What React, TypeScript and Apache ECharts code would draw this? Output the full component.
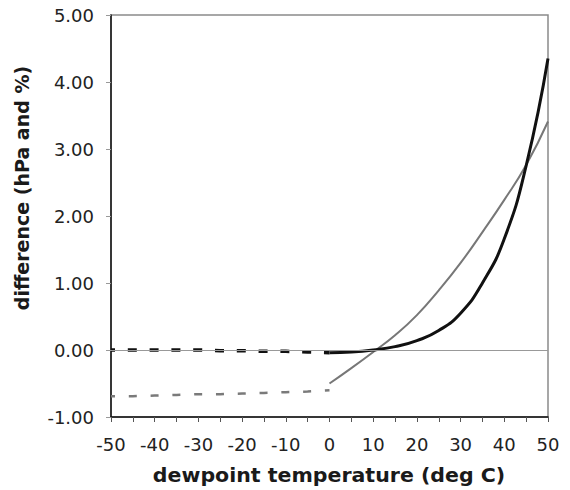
import React, { useEffect, useRef } from "react";
import * as echarts from "echarts";

const coldTemps = [-50, -45, -40, -35, -30, -25, -20, -15, -10, -5, 0];
const coldBlack = [0.0, 0.0, 0.0, 0.0, 0.0, -0.01, -0.01, -0.02, -0.02, -0.03, -0.04];
const coldGray = [-0.69, -0.69, -0.68, -0.67, -0.66, -0.66, -0.65, -0.64, -0.63, -0.62, -0.6];
const warmTemps = [0, 5, 10, 15, 20, 25, 30, 35, 40, 45, 50];
const warmBlack = [-0.04, -0.03, 0.0, 0.05, 0.14, 0.29, 0.55, 1.0, 1.66, 2.75, 4.35];
const warmGray = [-0.5, -0.27, -0.03, 0.22, 0.52, 0.89, 1.3, 1.76, 2.24, 2.76, 3.41];
const xTitle = "dewpoint temperature (deg C)";
const yTitle = "difference (hPa and %)";

const zip = (xs: number[], ys: number[]) => xs.map((x, i) => [x, ys[i]]);

export default function App() {
  const ref = useRef<HTMLDivElement>(null);
  useEffect(() => {
    const chart = echarts.init(ref.current!, null, { renderer: "svg" });
    const font = "DejaVu Sans, Verdana, sans-serif";
    chart.setOption({
      animation: false,
      backgroundColor: "#ffffff",
      grid: {
        left: 111,
        right: 22,
        top: 15,
        bottom: 73,
        show: true,
        borderColor: "#8a8a8a",
        borderWidth: 1.5,
        backgroundColor: "transparent",
      },
      graphic: [
        {
          type: "text",
          x: 329,
          y: 476,
          scaleX: 1.08,
          style: {
            text: xTitle,
            fontFamily: font,
            fontSize: 19,
            fontWeight: "bold",
            fill: "#1a1a1a",
            align: "center",
            verticalAlign: "middle",
          },
          silent: true,
        },
        {
          type: "text",
          x: 22,
          y: 188,
          rotation: Math.PI / 2,
          style: {
            text: yTitle,
            fontFamily: font,
            fontSize: 19,
            fontWeight: "bold",
            fill: "#1a1a1a",
            align: "center",
            verticalAlign: "middle",
          },
          silent: true,
        },
      ],
      xAxis: {
        type: "value",
        min: -50,
        max: 50,
        interval: 5,
        axisLine: { onZero: false, lineStyle: { color: "#111", width: 1.5 } },
        axisTick: { show: true, length: 5, inside: false, lineStyle: { color: "#555" } },
        axisLabel: {
          fontFamily: font,
          fontSize: 18,
          color: "#222",
          margin: 18,
          formatter: (v: number) => (v % 10 === 0 ? String(v) : ""),
        },
        splitLine: { show: false },
      },
      yAxis: {
        type: "value",
        min: -1,
        max: 5,
        interval: 1,
        axisLine: { show: true, onZero: false, lineStyle: { color: "#111", width: 1.5 } },
        axisTick: { show: true, length: 5, lineStyle: { color: "#999" } },
        axisLabel: {
          fontFamily: font,
          fontSize: 18,
          color: "#222",
          margin: 17,
          formatter: (v: number) => v.toFixed(2),
        },
        splitLine: { show: false },
      },
      series: [
        {
          type: "line",
          data: zip(coldTemps, coldGray),
          showSymbol: false,
          lineStyle: { color: "#7a7a7a", width: 2.5, type: [8, 13.8], dashOffset: 4 },
          silent: true,
        },
        {
          type: "line",
          data: zip(coldTemps, coldBlack),
          showSymbol: false,
          lineStyle: { color: "#111", width: 3.5, type: [9, 12.8], dashOffset: 4.5 },
          silent: true,
          z: 3,
          markLine: {
            silent: true,
            symbol: "none",
            label: { show: false },
            lineStyle: { color: "#999", width: 1, type: "solid" },
            data: [{ yAxis: 0 }],
          },
        },
        {
          type: "line",
          data: zip(warmTemps, warmGray),
          smooth: true,
          showSymbol: false,
          lineStyle: { color: "#777", width: 2 },
          silent: true,
        },
        {
          type: "line",
          data: zip(warmTemps, warmBlack),
          smooth: true,
          showSymbol: false,
          lineStyle: { color: "#111", width: 3 },
          silent: true,
          z: 4,
        },
      ],
    });
    return () => chart.dispose();
  }, []);
  return (
    <div
      ref={ref}
      style={{ position: "fixed", left: 0, top: 0, width: 570, height: 490, background: "#fff" }}
    />
  );
}
